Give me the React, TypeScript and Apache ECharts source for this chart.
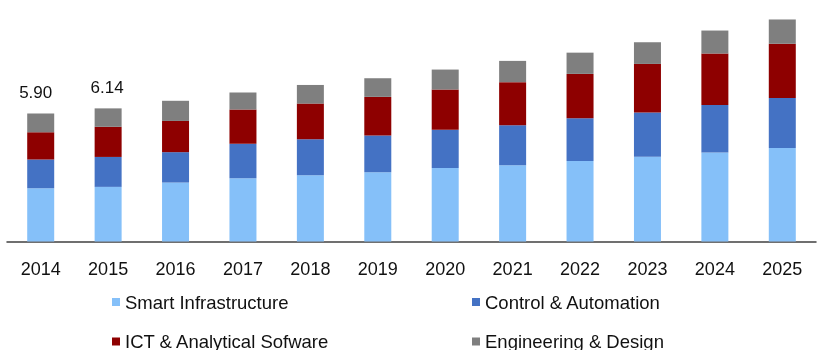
import React, { useEffect, useRef } from "react";
import * as echarts from "echarts";

const years = ["2014", "2015", "2016", "2017", "2018", "2019", "2020", "2021", "2022", "2023", "2024", "2025"];
const smartInfrastructure = [2.46, 2.52, 2.72, 2.92, 3.06, 3.19, 3.39, 3.52, 3.71, 3.91, 4.11, 4.31];
const controlAutomation = [1.32, 1.38, 1.40, 1.59, 1.66, 1.70, 1.76, 1.84, 1.98, 2.04, 2.18, 2.31];
const ictSoftware = [1.26, 1.39, 1.44, 1.58, 1.64, 1.78, 1.86, 1.99, 2.04, 2.24, 2.38, 2.50];
const engineeringDesign = [0.86, 0.85, 0.93, 0.78, 0.86, 0.86, 0.92, 0.98, 0.98, 1.00, 1.06, 1.12];
const totalLabels = ["5.90", "6.14"];

const seriesNames = ["Smart Infrastructure", "Control & Automation", "ICT & Analytical Sofware", "Engineering & Design"];
const colors = ["#85C0F9", "#4472C4", "#8E0000", "#7F7F7F"];

const FONT = "'Liberation Sans', Arial, sans-serif";
const labelOffsets = [[-5, 0], [-1, 1]];

export default function App() {
  const ref = useRef<HTMLDivElement>(null);
  useEffect(() => {
    if (!ref.current) return;
    const chart = echarts.init(ref.current, null, { renderer: "svg" });
    const legendPos = [
      { left: 112, top: 292 },
      { left: 472, top: 292 },
      { left: 112, top: 331.5 },
      { left: 472, top: 331.5 },
    ];
    const dataSets = [smartInfrastructure, controlAutomation, ictSoftware, engineeringDesign];
    chart.setOption({
      animation: false,
      color: colors,
      grid: { left: 7, right: 4, top: 3, height: 238.5, containLabel: false },
      legend: seriesNames.map((n, i) => ({
        data: [n],
        left: legendPos[i].left,
        top: legendPos[i].top,
        padding: 0,
        icon: "rect",
        itemWidth: 8,
        itemHeight: 8,
        selectedMode: false,
        textStyle: { fontSize: 18.5, lineHeight: 20, color: "#111", fontFamily: FONT },
      })),
      xAxis: {
        type: "category",
        data: years,
        axisLine: { show: true, lineStyle: { color: "#404040", width: 1.5 } },
        axisTick: { show: false },
        axisLabel: { color: "#111", fontSize: 18, fontFamily: FONT, margin: 18, interval: 0 },
      },
      yAxis: {
        type: "value",
        min: 0,
        max: 11,
        show: false,
        splitLine: { show: false },
      },
      series: dataSets.map((d, si) => ({
        name: seriesNames[si],
        type: "bar",
        stack: "total",
        barWidth: 27,
        itemStyle: { color: colors[si] },
        data: d.map((v, i) =>
          si === 3 && i < totalLabels.length
            ? {
                value: v,
                label: {
                  show: true,
                  position: "top",
                  distance: 13,
                  offset: labelOffsets[i],
                  formatter: totalLabels[i],
                  color: "#111",
                  fontSize: 17,
                  fontFamily: FONT,
                },
              }
            : v
        ),
      })),
    });
    return () => chart.dispose();
  }, []);
  return <div ref={ref} style={{ position: "fixed", left: 0, top: 0, width: 820, height: 350 }} />;
}
